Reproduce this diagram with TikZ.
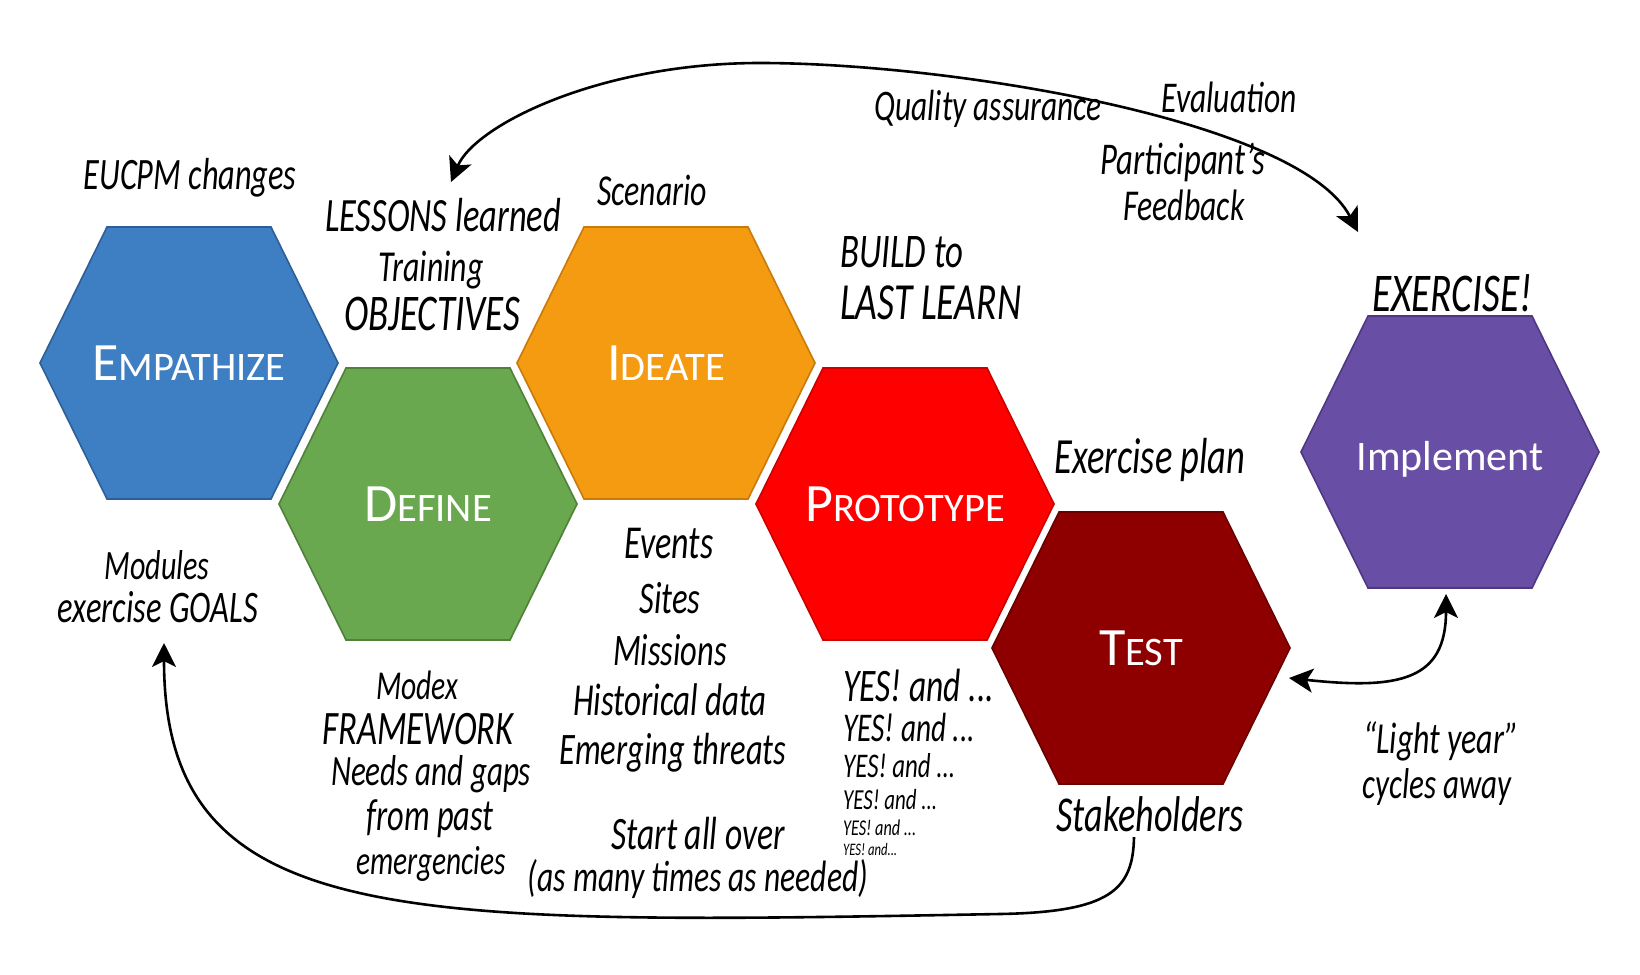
\documentclass[tikz,border=0pt]{standalone}
\usepackage{fontspec}
\setmainfont{Carlito}
\usepackage{graphicx}
\usetikzlibrary{arrows.meta}
\definecolor{empF}{RGB}{62,127,195}
\definecolor{empD}{RGB}{45,95,150}
\definecolor{defF}{RGB}{106,168,79}
\definecolor{defD}{RGB}{80,128,58}
\definecolor{ideF}{RGB}{245,155,18}
\definecolor{ideD}{RGB}{200,122,10}
\definecolor{proF}{RGB}{255,0,0}
\definecolor{proD}{RGB}{205,0,0}
\definecolor{tesF}{RGB}{142,0,0}
\definecolor{tesD}{RGB}{105,0,0}
\definecolor{impF}{RGB}{104,79,165}
\definecolor{impD}{RGB}{78,56,130}
\newcommand{\hw}[2]{\resizebox{#1pt}{!}{\scalebox{0.72}[1]{\fontsize{40}{48}\selectfont\itshape #2}}}
\newcommand{\smc}[2]{{\fontsize{54}{54}\selectfont #1}{\fontsize{40.5}{40.5}\selectfont #2}}
\newcommand{\hexat}[3]{\begin{scope}[shift={(#1)}]\filldraw[hexbox, fill=#2, draw=#3] (-149,0) -- (-82,-136) -- (82,-136) -- (149,0) -- (82,136) -- (-82,136) -- cycle;\end{scope}}
\begin{document}
\begin{tikzpicture}[x=1pt, y=-1pt,
  hexbox/.style={line width=1.6pt, line join=miter},
  hand/.style={inner sep=0pt, text=black},
  hexlabel/.style={text=white, inner sep=0pt, anchor=base},
  conn/.style={line width=2.6pt, black},
  >={Stealth[length=24pt,width=24pt,inset=6pt]}]
\path[use as bounding box, fill=white] (0,0) rectangle (1640,974);
% hexagons
\hexat{189,363}{empF}{empD}
\hexat{428,504}{defF}{defD}
\hexat{666,363}{ideF}{ideD}
\hexat{905,504}{proF}{proD}
\hexat{1141,648}{tesF}{tesD}
\hexat{1450,452}{impF}{impD}
% hexagon labels
\node[hexlabel] (empathize) at (189,380) {\smc{E}{MPATHIZE}};
\node[hexlabel] (define) at (428,521) {\smc{D}{EFINE}};
\node[hexlabel] (ideate) at (666,380) {\smc{I}{DEATE}};
\node[hexlabel] (prototype) at (905,521) {\smc{P}{ROTOTYPE}};
\node[hexlabel] (test) at (1141,665) {\smc{T}{EST}};
\node[hexlabel] (implement) at (1450,470) {\fontsize{42}{42}\selectfont Implement};
% handwritten notes
\node[hand] (eucpm) at (190,178) {\hw{213}{EUCPM changes}};
\node[hand] (lessons) at (443,215) {\hw{236}{LESSONS learned}};
\node[hand] (training) at (431,270) {\hw{105}{Training}};
\node[hand] (objectives) at (432,314) {\hw{176}{OBJECTIVES}};
\node[hand] (scenario) at (652,190) {\hw{110}{Scenario}};
\node[hand, anchor=west] (build) at (840,252) {\hw{123}{BUILD to}};
\node[hand, anchor=west] (lastlearn) at (840,303) {\hw{181}{LAST LEARN}};
\node[hand] (quality) at (988,109) {\hw{227}{Quality assurance}};
\node[hand] (evaluation) at (1229,97) {\hw{135}{Evaluation}};
\node[hand] (participant) at (1183,162) {\hw{165}{Participant's}};
\node[hand] (feedback) at (1184,205) {\hw{121}{Feedback}};
\node[hand] (exercise) at (1452,293) {\hw{160}{EXERCISE!}};
\node[hand] (explan) at (1150,460) {\hw{191}{Exercise plan}};
\node[hand] (modules) at (157,565) {\hw{105}{Modules}};
\node[hand] (goals) at (158,607) {\hw{200}{exercise GOALS}};
\node[hand] (events) at (669,544) {\hw{89}{Events}};
\node[hand] (sites) at (670,598) {\hw{61}{Sites}};
\node[hand] (missions) at (670,650) {\hw{114}{Missions}};
\node[hand] (historical) at (670,700) {\hw{194}{Historical data}};
\node[hand] (emerging) at (673,753) {\hw{227}{Emerging threats}};
\node[hand] (modex) at (417,685) {\hw{82}{Modex}};
\node[hand] (framework) at (418,729) {\hw{191}{FRAMEWORK}};
\node[hand] (needs) at (431,774) {\hw{200}{Needs and gaps}};
\node[hand] (frompast) at (430,819) {\hw{127}{from past}};
\node[hand] (emergencies) at (431,864) {\hw{150}{emergencies}};
\node[hand] (startall) at (698,834) {\hw{173}{Start all over}};
\node[hand] (asmany) at (698,879) {\hw{340}{(as many times as needed)}};
\node[hand, anchor=west] (yesa) at (843,685) {\hw{151}{YES! and ...}};
\node[hand, anchor=west] (yesb) at (843,727) {\hw{132}{YES! and ...}};
\node[hand, anchor=west] (yesc) at (843,766) {\hw{112}{YES! and ...}};
\node[hand, anchor=west] (yesd) at (843,800) {\hw{94}{YES! and ...}};
\node[hand, anchor=west] (yese) at (843,828) {\hw{73}{YES! and ...}};
\node[hand, anchor=west] (yesf) at (843,849) {\hw{54}{YES! and...}};
\node[hand] (stake) at (1150,814) {\hw{187}{Stakeholders}};
\node[hand] (light) at (1441,741) {\hw{156}{“Light year”}};
\node[hand] (cycles) at (1437,787) {\hw{149}{cycles away}};
% connectors
\coordinate (ltip) at (451,182);
\coordinate (peak) at (760,63);
\coordinate (rtip) at (1358,232);
\draw[conn,<->] (ltip) .. controls (475,125) and (600,63) .. (peak) .. controls (950,63) and (1300,120) .. (rtip);
\coordinate (sbot) at (1134,837);
\coordinate (bmid) at (1000,914);
\coordinate (gtip) at (164,643);
\draw[conn,->] (sbot) .. controls (1133,890) and (1110,912) .. (bmid) .. controls (400,925) and (164,930) .. (gtip);
\coordinate (ttip) at (1289,678);
\coordinate (itip) at (1446,594);
\draw[conn,<->] (ttip) .. controls (1400,690) and (1446,680) .. (itip);
\end{tikzpicture}
\end{document}
